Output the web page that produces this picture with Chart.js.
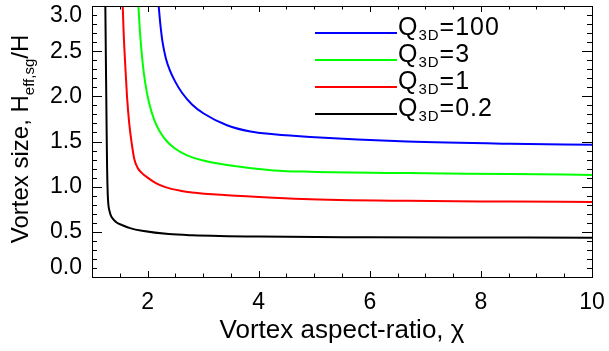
<!DOCTYPE html>
<html>
<head>
<meta charset="utf-8">
<script src="https://cdn.jsdelivr.net/npm/chart.js@4.4.1/dist/chart.umd.min.js"></script>
<style>
  html, body { margin: 0; padding: 0; background: #fff; }
  #chart { display: block; }
</style>
</head>
<body>
<canvas id="chart" width="609" height="351"></canvas>
<script>
// values (chi, H_eff,sg/H)
const chiQ100 = [2.185, 2.20, 2.23, 2.27, 2.33, 2.40, 2.50, 2.62, 2.80, 3.01, 3.43, 3.85, 4.27, 4.93, 6.67, 8.53, 10.0];
const sizeQ100 = [3.1, 3.0, 2.80, 2.60, 2.42, 2.29, 2.16, 2.04, 1.91, 1.81, 1.68, 1.61, 1.58, 1.55, 1.50, 1.475, 1.465];

const chiQ3 = [1.82, 1.835, 1.865, 1.91, 1.96, 2.03, 2.12, 2.22, 2.35, 2.50, 2.70, 3.0, 3.43, 4.27, 4.93, 6.67, 8.53, 10.0];
const sizeQ3 = [3.1, 3.0, 2.7, 2.38, 2.14, 1.92, 1.74, 1.61, 1.50, 1.42, 1.35, 1.29, 1.24, 1.18, 1.165, 1.15, 1.14, 1.13];

const chiQ1 = [1.546, 1.553, 1.57, 1.60, 1.63, 1.67, 1.71, 1.76, 1.82, 1.90, 2.00, 2.15, 2.32, 2.59, 2.80, 3.43, 4.27, 4.93, 6.67, 8.53, 10.0];
const sizeQ1 = [3.1, 3.0, 2.70, 2.33, 2.00, 1.70, 1.50, 1.31, 1.21, 1.15, 1.10, 1.04, 0.995, 0.955, 0.935, 0.905, 0.878, 0.862, 0.843, 0.835, 0.83];

const chiQ02 = [1.238, 1.24, 1.25, 1.262, 1.272, 1.283, 1.295, 1.315, 1.34, 1.38, 1.45, 1.54, 1.70, 1.90, 2.38, 2.80, 4.0, 6.0, 8.0, 10.0];
const sizeQ02 = [3.1, 3.0, 2.40, 1.70, 1.20, 0.92, 0.80, 0.73, 0.68, 0.64, 0.60, 0.575, 0.538, 0.512, 0.475, 0.462, 0.447, 0.44, 0.437, 0.435];

const qLabels = ["100", "3", "1", "0.2"];
const xTickValues = [2, 4, 6, 8, 10];
const yTickValues = [0, 0.5, 1, 1.5, 2, 2.5, 3];
const xTitle = "Vortex aspect-ratio, \u03c7";

const FONT = '"Liberation Sans", Arial, Helvetica, sans-serif';

function toPoints(xs, ys) {
    return xs.map((x, i) => ({ x: x, y: ys[i] }));
}

function curve(xs, ys, color) {
    return {
        data: toPoints(xs, ys),
        borderColor: color,
        borderWidth: 2,
        pointRadius: 0,
        cubicInterpolationMode: "monotone",
        fill: false,
        clip: 0
    };
}

// IDL style box: frame, inward ticks on all sides, legend and y title
const idlBox = {
    id: "idlBox",
    afterDatasetsDraw(chart) {
        const ctx = chart.ctx;
        const a = chart.chartArea;
        const xs = chart.scales.x;
        const ys = chart.scales.y;
        const L = Math.round(a.left), R = Math.round(a.right);
        const T = Math.round(a.top), B = Math.round(a.bottom);

        ctx.save();
        ctx.strokeStyle = "#000";
        ctx.lineWidth = 1;
        ctx.strokeRect(L + 0.5, T + 0.5, R - L, B - T);

        ctx.beginPath();
        for (let k = 1; k < 30; k++) {
            const py = Math.round(ys.getPixelForValue(k / 10)) + 0.5;
            const len = k % 5 === 0 ? 10 : 5;
            ctx.moveTo(L, py); ctx.lineTo(L + len, py);
            ctx.moveTo(R, py); ctx.lineTo(R - len, py);
        }
        for (let k = 1; k < 18; k++) {
            const v = 1 + k * 0.5;
            const px = Math.round(xs.getPixelForValue(v)) + 0.5;
            const len = v % 2 === 0 ? 6 : 3.5;
            ctx.moveTo(px, B); ctx.lineTo(px, B - len);
            ctx.moveTo(px, T); ctx.lineTo(px, T + len);
        }
        ctx.stroke();

        // legend
        chart.data.datasets.forEach((ds, i) => {
            const ly = 33 + 27 * i;
            ctx.beginPath();
            ctx.strokeStyle = ds.borderColor;
            ctx.lineWidth = 2;
            ctx.moveTo(315, ly);
            ctx.lineTo(397, ly);
            ctx.stroke();

            ctx.fillStyle = "#000";
            ctx.textBaseline = "alphabetic";
            ctx.textAlign = "left";
            ctx.letterSpacing = "1px";
            let tx = 398;
            ctx.font = "25px " + FONT;
            ctx.fillText("Q", tx, ly + 2);
            tx += ctx.measureText("Q").width;
            ctx.font = "15px " + FONT;
            ctx.fillText("3D", tx, ly + 7);
            tx += ctx.measureText("3D").width;
            ctx.font = "25px " + FONT;
            ctx.fillText("=" + qLabels[i], tx, ly + 2);
        });
        ctx.letterSpacing = "0px";

        // y axis title with subscript
        const parts = [
            { t: "Vortex size, H", f: "24px " + FONT, dy: 0 },
            { t: "eff,sg", f: "15px " + FONT, dy: 6 },
            { t: "/H", f: "24px " + FONT, dy: 0 }
        ];
        let total = 0;
        parts.forEach(p => { ctx.font = p.f; p.w = ctx.measureText(p.t).width; total += p.w; });
        ctx.translate(28, 139);
        ctx.rotate(-Math.PI / 2);
        let u = -total / 2;
        parts.forEach(p => {
            ctx.font = p.f;
            ctx.fillText(p.t, u, p.dy);
            u += p.w;
        });
        ctx.restore();
    }
};

const ctx = document.getElementById("chart").getContext("2d");

new Chart(ctx, {
    type: "line",
    data: {
        datasets: [
            curve(chiQ100, sizeQ100, "#0000ff"),
            curve(chiQ3, sizeQ3, "#00ff00"),
            curve(chiQ1, sizeQ1, "#ff0000"),
            curve(chiQ02, sizeQ02, "#000000")
        ]
    },
    options: {
        responsive: false,
        animation: false,
        layout: { padding: { left: 0, right: 17, top: 6, bottom: 0 } },
        plugins: {
            legend: { display: false },
            tooltip: { enabled: false }
        },
        scales: {
            x: {
                type: "linear",
                min: 1,
                max: 10,
                grid: { display: false, drawTicks: false },
                border: { display: false },
                afterBuildTicks: s => { s.ticks = xTickValues.map(v => ({ value: v })); },
                afterFit: s => { s.height = 74; s.paddingLeft = 0; s.paddingRight = 0; },
                ticks: {
                    autoSkip: false,
                    maxRotation: 0,
                    padding: 12,
                    color: "#000",
                    font: { family: FONT, size: 23 },
                    callback: v => String(v)
                },
                title: {
                    display: true,
                    text: xTitle,
                    color: "#000",
                    font: { family: FONT, size: 26 },
                    padding: { top: 0, bottom: 5 }
                }
            },
            y: {
                type: "linear",
                min: 0,
                max: 3,
                grid: { display: false, drawTicks: false },
                border: { display: false },
                afterBuildTicks: s => { s.ticks = yTickValues.map(v => ({ value: v })); },
                afterFit: s => { s.width = 92; s.paddingTop = 0; s.paddingBottom = 0; },
                ticks: {
                    autoSkip: false,
                    padding: 10,
                    color: "#000",
                    font: { family: FONT, size: 23, lineHeight: 0.8 },
                    callback: v => {
                        const t = v.toFixed(1);
                        if (v === 3) return ["", t];
                        if (v === 0) return [t, ""];
                        return t;
                    }
                }
            }
        }
    },
    plugins: [idlBox]
});
</script>
</body>
</html>
